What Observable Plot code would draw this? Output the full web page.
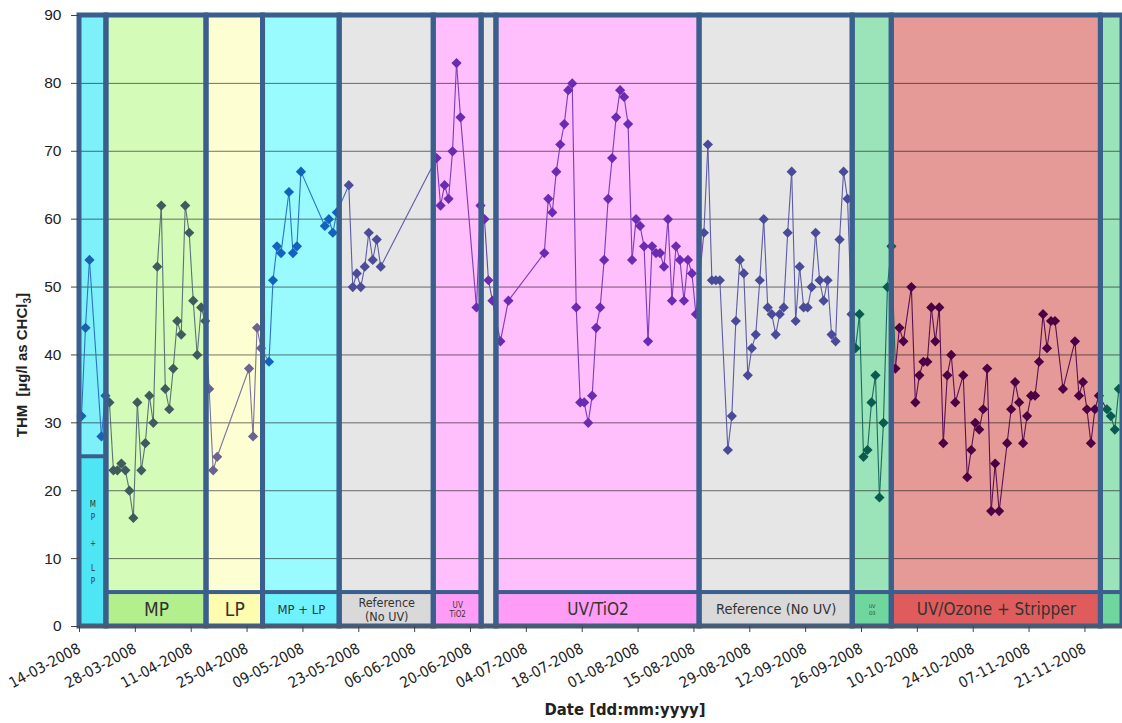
<!DOCTYPE html>
<html><head><meta charset="utf-8">
<script src="https://cdn.jsdelivr.net/npm/d3@7"></script>
<script src="https://cdn.jsdelivr.net/npm/@observablehq/plot@0.6"></script>
<style>
html,body{margin:0;padding:0;background:#fff;}
#chart{width:1122px;height:723px;overflow:hidden;}
</style></head><body><div id="chart"></div>
<script>
// ---- data ----
const sampleDates = [
  "2008-03-14","2008-03-15","2008-03-16","2008-03-19","2008-03-20","2008-03-21","2008-03-22","2008-03-23","2008-03-24","2008-03-25","2008-03-26","2008-03-27","2008-03-28","2008-03-29","2008-03-30","2008-03-31",
  "2008-04-01","2008-04-02","2008-04-03","2008-04-04","2008-04-05","2008-04-06","2008-04-07","2008-04-08","2008-04-09","2008-04-10","2008-04-11","2008-04-12","2008-04-13","2008-04-14","2008-04-15","2008-04-16","2008-04-17","2008-04-25","2008-04-26","2008-04-27","2008-04-28","2008-04-30",
  "2008-05-01","2008-05-02","2008-05-03","2008-05-05","2008-05-06","2008-05-07","2008-05-08","2008-05-14","2008-05-15","2008-05-16","2008-05-17","2008-05-20","2008-05-21","2008-05-22","2008-05-23","2008-05-24","2008-05-25","2008-05-26","2008-05-27","2008-05-28",
  "2008-06-11","2008-06-12","2008-06-13","2008-06-14","2008-06-15","2008-06-16","2008-06-17","2008-06-21","2008-06-22","2008-06-23","2008-06-24","2008-06-25","2008-06-27","2008-06-29",
  "2008-07-08","2008-07-09","2008-07-10","2008-07-11","2008-07-12","2008-07-13","2008-07-14","2008-07-15","2008-07-16","2008-07-17","2008-07-18","2008-07-19","2008-07-20","2008-07-21","2008-07-22","2008-07-23","2008-07-24","2008-07-25","2008-07-26","2008-07-27","2008-07-28","2008-07-29","2008-07-30","2008-07-31",
  "2008-08-01","2008-08-02","2008-08-03","2008-08-04","2008-08-05","2008-08-06","2008-08-07","2008-08-08","2008-08-09","2008-08-10","2008-08-11","2008-08-12","2008-08-13","2008-08-14","2008-08-15","2008-08-17","2008-08-18","2008-08-19","2008-08-20","2008-08-21","2008-08-23","2008-08-24","2008-08-25","2008-08-26","2008-08-27","2008-08-28","2008-08-29","2008-08-30","2008-08-31",
  "2008-09-01","2008-09-02","2008-09-03","2008-09-04","2008-09-05","2008-09-06","2008-09-07","2008-09-08","2008-09-09","2008-09-10","2008-09-11","2008-09-12","2008-09-13","2008-09-14","2008-09-15","2008-09-16","2008-09-17","2008-09-18","2008-09-19","2008-09-20","2008-09-21","2008-09-22","2008-09-23","2008-09-24","2008-09-25","2008-09-26","2008-09-27","2008-09-28","2008-09-29","2008-09-30",
  "2008-10-01","2008-10-02","2008-10-03","2008-10-04","2008-10-05","2008-10-06","2008-10-08","2008-10-09","2008-10-10","2008-10-11","2008-10-12","2008-10-13","2008-10-14","2008-10-15","2008-10-16","2008-10-17","2008-10-18","2008-10-19","2008-10-21","2008-10-22","2008-10-23","2008-10-24","2008-10-25","2008-10-26","2008-10-27","2008-10-28","2008-10-29","2008-10-30",
  "2008-11-01","2008-11-02","2008-11-03","2008-11-04","2008-11-05","2008-11-06","2008-11-07","2008-11-08","2008-11-09","2008-11-10","2008-11-11","2008-11-12","2008-11-13","2008-11-15","2008-11-18","2008-11-19","2008-11-20","2008-11-21","2008-11-22","2008-11-23","2008-11-24","2008-11-26","2008-11-27","2008-11-28","2008-11-29","2008-11-30"
];
const thmValues = [
  31,44,54,28,34,33,23,23,24,23,20,16,33,23,27,34,
  30,53,62,35,32,38,45,43,62,58,48,40,47,45,35,23,25,38,28,44,41,39,
  51,56,55,64,55,56,67,59,60,58,61,65,50,52,50,53,58,54,57,53,
  69,62,65,63,70,83,75,47,62,60,51,48,42,48,
  55,63,61,67,71,74,79,80,47,33,33,30,34,44,47,54,63,69,75,79,78,74,54,60,
  59,56,42,56,55,55,53,60,48,56,54,48,54,52,46,58,71,51,51,51,26,31,45,54,52,37,41,43,51,
  60,47,46,43,46,47,58,67,45,53,47,47,50,58,51,48,51,43,42,57,67,63,46,41,46,25,26,33,37,19,
  30,50,56,38,44,42,50,33,37,39,39,47,42,47,27,37,40,33,37,22,26,30,29,32,38,17,24,17,
  27,32,36,33,27,31,34,34,39,46,41,45,45,35,42,34,36,32,27,32,34,32,31,29,35,35
];
// treatment phases (background bands)
const bandStarts = ["2008-03-14T00:00","2008-03-20T18:00","2008-04-14T20:00","2008-04-29T00:00","2008-05-18T05:00","2008-06-10T19:00","2008-06-22T19:00","2008-06-26T12:00","2008-08-16T10:00","2008-09-23T19:00","2008-10-03T14:00","2008-11-25T00:00"];
const bandEnds   = ["2008-03-20T18:00","2008-04-14T20:00","2008-04-29T00:00","2008-05-18T05:00","2008-06-10T19:00","2008-06-22T19:00","2008-06-26T12:00","2008-08-16T10:00","2008-09-23T19:00","2008-10-03T14:00","2008-11-25T00:00","2008-11-30T10:00"];
const bandKinds  = ["MPLP1","MP","LP","MPLP","REF","TIO2S","GAP","TIO2","REF2","OZ","OZS","OZ"];
const bandLabels = ["M\nP\n\n+\n\nL\nP","MP","LP","MP + LP","Reference\n(No UV)","UV\nTiO2",null,"UV/TiO2","Reference (No UV)","UV\nO3","UV/Ozone + Stripper",""];
const tickLabels = ["14-03-2008","28-03-2008","11-04-2008","25-04-2008","09-05-2008","23-05-2008","06-06-2008","20-06-2008","04-07-2008","18-07-2008","01-08-2008","15-08-2008","29-08-2008","12-09-2008","26-09-2008","10-10-2008","24-10-2008","07-11-2008","21-11-2008"];
const yTicks = [0,10,20,30,40,50,60,70,80,90];
const xTitle = "Date [dd:mm:yyyy]";
const yTitle = "THM  [µg/l as CHCl3]";

// ---- styling ----
const kindStyle = {
  MPLP1: {fill:"#7ef0fa", box:"#4ee6f5", line:"#2e74c2", dot:"#1a62b0"},
  MP:    {fill:"#d5fbb9", box:"#b4ef8d", line:"#5a7474", dot:"#3e5c5e"},
  LP:    {fill:"#fefed3", box:"#fefcae", line:"#7c7498", dot:"#6a6290"},
  MPLP:  {fill:"#9afbff", box:"#6ef2fd", line:"#2c72c4", dot:"#1262bf"},
  REF:   {fill:"#e6e6e6", box:"#d9d9d9", line:"#5c5ca6", dot:"#4c4c98"},
  TIO2S: {fill:"#ffbefc", box:"#ff9cf6", line:"#7a3cbc", dot:"#6a2ab2"},
  GAP:   {fill:"#e6e6e6", box:"#e6e6e6", line:"#6a40b0", dot:"#6a2ab2"},
  TIO2:  {fill:"#ffbefc", box:"#ff9cf6", line:"#7a3cbc", dot:"#6a2ab2"},
  REF2:  {fill:"#e6e6e6", box:"#d9d9d9", line:"#5c5ca6", dot:"#4a4a9a"},
  OZ:    {fill:"#9be4ba", box:"#6fd69d", line:"#1c6a5e", dot:"#0a5a50"},
  OZS:   {fill:"#e69a98", box:"#e05c5c", line:"#5a1050", dot:"#4a0042"}
};
const labelStyle = [
  {size:8, lh:1.6}, {size:19}, {size:19}, {size:13}, {size:12.5, lh:1.15}, {size:8, lh:1.2},
  null, {size:17}, {size:14.5}, {size:5, lh:1.3}, {size:17}, {size:12}
];
const borderColor = "#3b5f8d";
const condensed = "'Liberation Sans Narrow','DejaVu Sans Condensed','Roboto Condensed',sans-serif";

const parseT = s => new Date(s + "Z");
const parseTick = d3.utcParse("%d-%m-%Y");
const bands = bandStarts.map((s, i) => ({
  x1: parseT(s), x2: parseT(bandEnds[i]), kind: bandKinds[i], label: bandLabels[i], i,
  boxTop: i === 0 ? 25 : 5
}));
const kindAt = t => { const b = bands.find(b => t >= b.x1 && t < b.x2); return b ? b.kind : "OZ"; };
const points = sampleDates.map((s, i) => {
  const date = new Date(s + "T12:00Z");
  return {date, v: thmValues[i], kind: kindAt(date)};
});
const segs = points.slice(1).map((p, i) => ({a: points[i], b: p}));
const boxBands = bands.filter(b => b.label !== null);

const labelMarks = boxBands.filter(b => b.label).map(b => {
  const st = labelStyle[b.i];
  return Plot.text([b], {
    x: d => new Date((+d.x1 + +d.x2) / 2), y: d => d.boxTop / 2, text: "label",
    fontSize: st.size, lineHeight: st.lh || 1, fill: "#333", fontFamily: condensed
  });
});

const chart = Plot.plot({
  width: 1122, height: 723,
  marginLeft: 79, marginRight: 0, marginTop: 15, marginBottom: 97,
  x: {type: "utc", domain: [parseT("2008-03-14T00:00"), parseT("2008-11-30T10:00")]},
  y: {domain: [0, 90]},
  style: {fontFamily: "'Liberation Sans', Arial, sans-serif", background: "#fff", color: "#222"},
  marks: [
    Plot.rect(bands, {x1: "x1", x2: "x2", y1: 0, y2: 90, fill: d => kindStyle[d.kind].fill}),
    Plot.ruleY(yTicks.filter(v => v > 0 && v < 90), {stroke: "#000", strokeOpacity: 0.55, strokeWidth: 1}),
    Plot.link(segs, {x1: d => d.a.date, y1: d => d.a.v, x2: d => d.b.date, y2: d => d.b.v,
      stroke: d => kindStyle[d.a.kind].line, strokeWidth: 1.1}),
    Plot.dot(points, {x: "date", y: "v", symbol: "diamond2", r: 4.6, fill: d => kindStyle[d.kind].dot, stroke: "none"}),
    Plot.rect(boxBands, {x1: "x1", x2: "x2", y1: 0, y2: "boxTop", fill: d => kindStyle[d.kind].box}),
    Plot.rect(bands, {x1: "x1", x2: "x2", y1: 0, y2: 90, fill: "none", stroke: borderColor, strokeWidth: 5}),
    Plot.rect(boxBands, {x1: "x1", x2: "x2", y1: 0, y2: "boxTop", fill: "none", stroke: borderColor, strokeWidth: 4}),
    ...labelMarks,
    Plot.ruleY([0], {stroke: "#555", strokeWidth: 1}),
    Plot.axisY({ticks: yTicks, tickSize: 8, tickPadding: 10, fontSize: 15.5, label: null, stroke: "#444"}),
    Plot.axisX({ticks: tickLabels.map(parseTick), tickFormat: d3.utcFormat("%d-%m-%Y"), tickRotate: -28,
      tickSize: 6, tickPadding: 15, fontSize: 15, fontFamily: condensed, label: null, stroke: "#444"}),
    Plot.text([xTitle], {frameAnchor: "bottom", dx: 24, dy: 88, fontSize: 16.5, fontWeight: "bold", fontFamily: condensed, fill: "#222"}),
    Plot.text([yTitle], {frameAnchor: "left", y: () => 38.5, rotate: -90, dx: -57, textAnchor: "middle", fontSize: 15, fontWeight: "bold", fill: "#222"})
  ]
});
// subscript the "3" of CHCl3
d3.select(chart).selectAll("text").filter(function() { return this.textContent === yTitle; }).each(function() {
  const t = d3.select(this);
  t.text(null);
  t.append("tspan").text(yTitle.slice(0, -2));
  t.append("tspan").attr("font-size", 10).attr("dy", 4).text("3");
  t.append("tspan").attr("dy", -4).text("]");
});
document.getElementById("chart").appendChild(chart);
</script>
</body></html>
